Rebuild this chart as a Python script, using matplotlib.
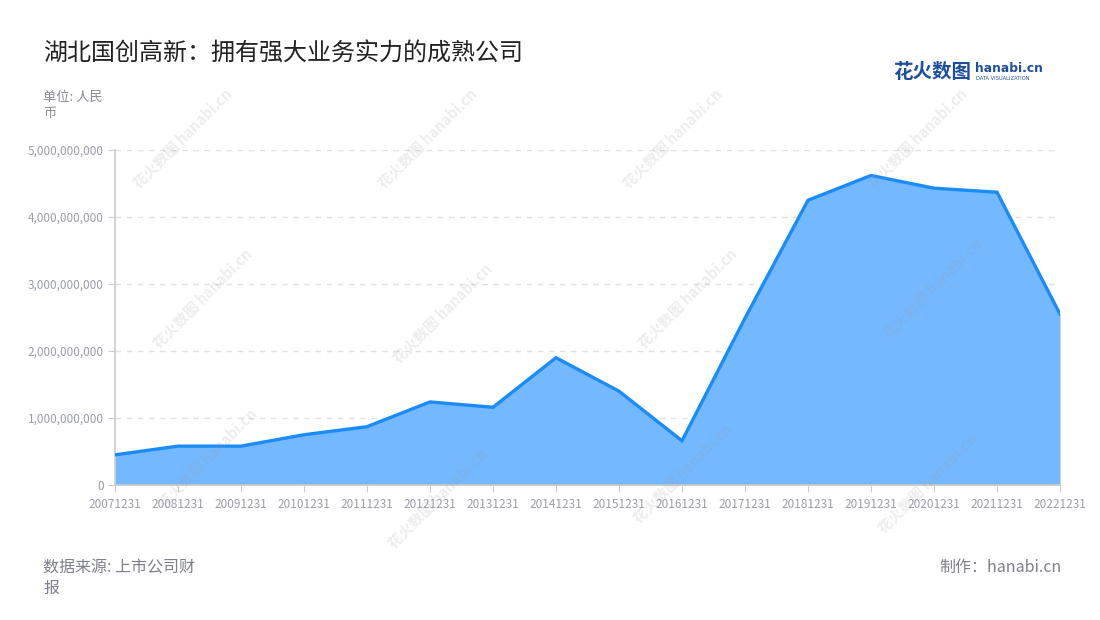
import matplotlib
matplotlib.use("Agg")
import matplotlib.pyplot as plt
from matplotlib.ticker import FuncFormatter, MultipleLocator

plt.rcParams['font.family'] = ['Noto Sans CJK SC', 'DejaVu Sans']

# ---- data ----
dates = ["20071231", "20081231", "20091231", "20101231", "20111231", "20121231",
         "20131231", "20141231", "20151231", "20161231", "20171231", "20181231",
         "20191231", "20201231", "20211231", "20221231"]
values = [0.45e9, 0.58e9, 0.58e9, 0.75e9, 0.87e9, 1.24e9,
          1.16e9, 1.90e9, 1.40e9, 0.66e9, 2.49e9, 4.25e9,
          4.62e9, 4.43e9, 4.37e9, 2.55e9]
title = "湖北国创高新：拥有强大业务实力的成熟公司"
unit_text = "单位: 人民\n币"
source_text = "数据来源: 上市公司财\n报"
credit_text = "制作：hanabi.cn"

W, H = 1100, 620
fig = plt.figure(figsize=(W / 100, H / 100), dpi=100)
fig.patch.set_facecolor("white")

ax = fig.add_axes([115 / W, 1 - 485 / H, (1060 - 115) / W, (485 - 150) / H])
ax.set_facecolor("none")
x = list(range(len(dates)))
ax.fill_between(x, values, 0, color='#74b9ff', lw=0, zorder=2)
ax.plot(x, values, color='#1a8cfa', lw=2.4, zorder=3, solid_joinstyle='miter')

ax.set_xlim(0, len(dates) - 1)
ax.set_ylim(0, 5e9)
ax.yaxis.set_major_locator(MultipleLocator(1e9))
ax.yaxis.set_major_formatter(FuncFormatter(lambda v, p: f"{int(v):,}"))
ax.set_xticks(x)
ax.set_xticklabels(dates)
ax.grid(axis='y', color='#e0e0e0', linestyle=(0, (4, 4)), lw=1)
ax.set_axisbelow(True)
for s in ['top', 'right']:
    ax.spines[s].set_visible(False)
for s in ['left', 'bottom']:
    ax.spines[s].set_color('#cccccc')
    ax.spines[s].set_linewidth(1.2)
ax.tick_params(axis='both', colors='#cccccc', labelcolor='#9a9ca8', labelsize=8.5, length=5)
ax.tick_params(axis='x', pad=4)
ax.tick_params(axis='y', pad=3)

# watermarks (faint, drawn over the chart)
wm_pos = [(135, 185), (380, 185), (625, 185), (870, 185),
          (155, 345), (395, 360), (640, 345), (885, 335),
          (160, 505), (390, 545), (635, 520), (880, 530)]
for (px, py) in wm_pos:
    fig.text(px / W, 1 - py / H, "花火数图 hanabi.cn", rotation=45, rotation_mode='anchor',
             ha='left', va='center', fontsize=10.5, fontweight='bold', color='#999999',
             alpha=0.18, zorder=10)

fig.text(43 / W, 1 - 54 / H, title, fontsize=17.3, color='#222222', va='center', ha='left')
fig.text(43 / W, 1 - 105 / H, unit_text, fontsize=9.5, color='#8a8a96', va='center', ha='left',
         linespacing=1.3)
fig.text(43 / W, 1 - 578 / H, source_text, fontsize=11.5, color='#7d7f8c', va='center', ha='left',
         linespacing=1.3)
fig.text(1062 / W, 1 - 567 / H, credit_text, fontsize=11.5, color='#7d7f8c', va='center', ha='right')

# logo
fig.text(893 / W, 1 - 72 / H, "花火数图", fontsize=14, fontweight='bold', color='#1e4f9f',
         va='center', ha='left')
fig.text(975 / W, 1 - 68 / H, "hanabi.cn", fontsize=8.8, fontweight='bold', color='#1e4f9f',
         va='center', ha='left', family=['DejaVu Sans'])
fig.text(976 / W, 1 - 79 / H, "DATA VISUALIZATION", fontsize=3.7, color='#1e4f9f',
         va='center', ha='left', family=['DejaVu Sans'])

fig.savefig("out.png", dpi=100, facecolor='white')
